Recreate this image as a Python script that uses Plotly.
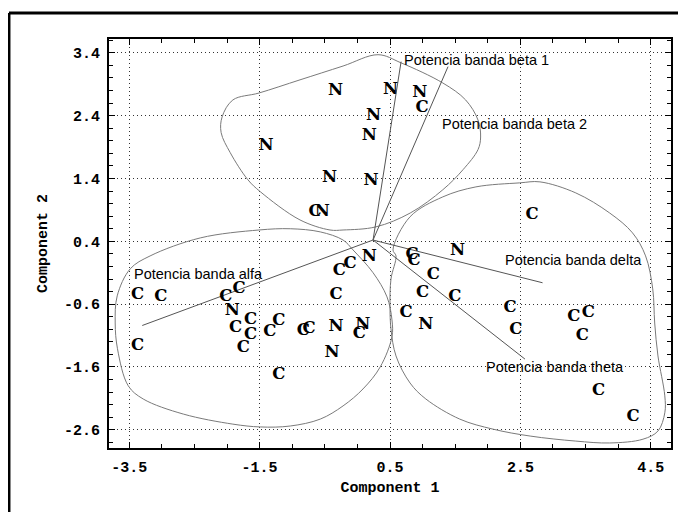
import plotly.graph_objects as go

# ---- data ----
n_x = [-0.335, 0.51, 0.956, 0.247, 0.181, -1.40, -0.427, 0.211, -0.538,
       0.184, 1.536, 1.05, -0.327, 0.082, -0.388, -1.92]
n_y = [2.795, 2.81, 2.768, 2.40, 2.084, 1.916, 1.41, 1.363, 0.874,
       0.147, 0.242, -0.926, -0.958, -0.93, -1.379, -0.715]

c_x = [0.99, -0.65,
       -0.276, -0.112, -0.327, 0.84, 0.87, 1.163, 1.0, 1.495, 0.745, -0.83, -0.74, 0.031,
       -3.37, -3.015, -2.02, -1.816, -1.638, -1.867, -1.638, -1.75, -3.37, -1.342, -1.204, -1.204,
       2.68, 2.34, 2.43, 3.32, 3.54, 3.45, 3.70, 4.23]
c_y = [2.516, 0.863,
       -0.063, 0.042, -0.453, 0.18, 0.09, -0.137, -0.416, -0.484, -0.747, -1.02, -1.0, -1.074,
       -0.454, -0.48, -0.49, -0.35, -0.845, -0.975, -1.095, -1.30, -1.27, -1.043, -0.87, -1.73,
       0.817, -0.652, -1.017, -0.798, -0.735, -1.11, -1.985, -2.40]

# loading vectors (biplot), from a common origin
vec_origin = (0.24, 0.42)
vec_names = ["Potencia banda beta 1", "Potencia banda beta 2", "Potencia banda delta",
             "Potencia banda theta", "Potencia banda alfa"]
vec_end_x = [0.67, 1.39, 2.84, 2.57, -3.30]
vec_end_y = [3.26, 3.18, -0.26, -1.475, -0.94]
label_x = [0.68, 1.27, 2.23, 1.94, -3.45]
label_y = [3.29, 2.26, 0.11, -1.60, -0.116]

# cluster outlines
top_x = [-2.09, -2.075, -1.91, -1.51, -0.88, -0.22, 0.316, 0.67, 1.31, 1.66, 1.85, 1.89,
         1.85, 1.62, 1.31, 0.81, 0.285, -0.22, -0.42, -0.88, -1.49, -1.68, -1.95]
top_y = [2.13, 2.38, 2.65, 2.76, 2.97, 3.19, 3.37, 3.24, 2.92, 2.65, 2.33, 2.06,
         1.86, 1.54, 1.22, 0.85, 0.63, 0.58, 0.58, 0.74, 1.19, 1.38, 1.81]
left_x = [-3.684, -3.485, -3.18, -2.41, -1.51, -1.03, -0.57, -0.22, -0.067, 0.24, 0.454,
          0.53, 0.53, 0.35, 0.086, -0.22, -0.57, -1.03, -1.49, -1.91, -2.67, -3.285,
          -3.515, -3.68, -3.715]
left_y = [-0.469, -0.039, 0.167, 0.454, 0.58, 0.60, 0.55, 0.42, 0.263, -0.10, -0.485,
          -0.85, -1.12, -1.60, -1.95, -2.22, -2.43, -2.54, -2.555, -2.51, -2.35, -2.11,
          -1.90, -1.31, -0.90]
right_x = [0.592, 0.546, 0.807, 1.31, 1.818, 2.49, 2.80, 3.35, 3.87, 4.22, 4.42, 4.53,
           4.56, 4.61, 4.715, 4.715, 4.61, 4.38, 3.87, 3.35, 2.65, 2.08, 1.57, 1.05,
           0.807, 0.592, 0.515, 0.50, 0.515]
right_y = [0.168, 0.263, 0.79, 1.107, 1.266, 1.33, 1.346, 1.17, 0.85, 0.534, 0.168, -0.358,
           -0.90, -1.425, -2.06, -2.33, -2.62, -2.75, -2.81, -2.78, -2.70, -2.59, -2.43, -2.11,
           -1.855, -1.425, -0.995, -0.63, -0.20]

x_ticks = [-3.5, -1.5, 0.5, 2.5, 4.5]
y_ticks = [-2.6, -1.6, -0.6, 0.4, 1.4, 2.4, 3.4]

fig = go.Figure()

for cx, cy in [(top_x, top_y), (left_x, left_y), (right_x, right_y)]:
    fig.add_trace(go.Scatter(x=cx + cx[:1], y=cy + cy[:1], mode="lines",
                             line=dict(color="#7a7a7a", width=1, shape="spline", smoothing=1.0),
                             hoverinfo="skip", showlegend=False))

vx, vy = [], []
for ex, ey in zip(vec_end_x, vec_end_y):
    vx += [vec_origin[0], ex, None]
    vy += [vec_origin[1], ey, None]
fig.add_trace(go.Scatter(x=vx, y=vy, mode="lines", line=dict(color="#555555", width=1),
                         hoverinfo="skip", showlegend=False))

marker_font = dict(family="DejaVu Serif", size=16.5, color="black", weight="bold")
fig.add_trace(go.Scatter(x=c_x, y=c_y, mode="text", text=["C"] * len(c_x),
                         textposition="middle center", textfont=marker_font, showlegend=False))
fig.add_trace(go.Scatter(x=n_x, y=n_y, mode="text", text=["N"] * len(n_x),
                         textposition="middle center", textfont=marker_font, showlegend=False))

for name, lx, ly in zip(vec_names, label_x, label_y):
    fig.add_annotation(x=lx, y=ly, text=name, showarrow=False, xanchor="left", yanchor="middle",
                       font=dict(family="Liberation Sans", size=14.5, color="black"))

tick_font = dict(family="Liberation Mono", size=15, color="black", weight="bold")
axis_common = dict(
    showline=True, linecolor="black", linewidth=2, mirror="ticks",
    ticks="inside", ticklen=6, tickwidth=1, tickcolor="black",
    showgrid=True, gridcolor="#333333", gridwidth=1, griddash="1px,3px",
    zeroline=False, tickfont=tick_font, ticklabelstandoff=4,
)
fig.update_xaxes(range=[-3.81, 4.81], tickvals=x_ticks, ticktext=[f"{v:.1f}" for v in x_ticks],
                 minor=dict(tickvals=[-3.5 + 0.5 * i for i in range(17)], ticks="inside",
                            ticklen=4, tickcolor="black", showgrid=False),
                 title=dict(text="Component 1", font=tick_font, standoff=5), **axis_common)
fig.update_yaxes(range=[-2.89, 3.62], tickvals=y_ticks, ticktext=[f"{v:.1f}" for v in y_ticks],
                 minor=dict(tickvals=[round(-2.8 + 0.2 * i, 1) for i in range(33)], ticks="inside",
                            ticklen=4, tickcolor="black", showgrid=False),
                 title=dict(text="Component 2", font=tick_font, standoff=13), **axis_common)

# outer frame (open box, extends past the right and bottom of the window)
fig.add_shape(type="line", xref="paper", yref="paper", x0=-0.178, x1=-0.178, y0=-0.3, y1=1.0636,
              line=dict(color="black", width=3))
fig.add_shape(type="line", xref="paper", yref="paper", x0=-0.178, x1=1.2, y0=1.0636, y1=1.0636,
              line=dict(color="black", width=3))

# the page adds an 8px body margin, so the plot area is placed 8px up/left to compensate
fig.update_layout(width=686, height=512, margin=dict(l=101, r=23, t=31, b=72),
                  paper_bgcolor="white", plot_bgcolor="white", showlegend=False)
fig.update_xaxes(automargin=False)
fig.update_yaxes(automargin=False)

fig.write_html("out.html")
